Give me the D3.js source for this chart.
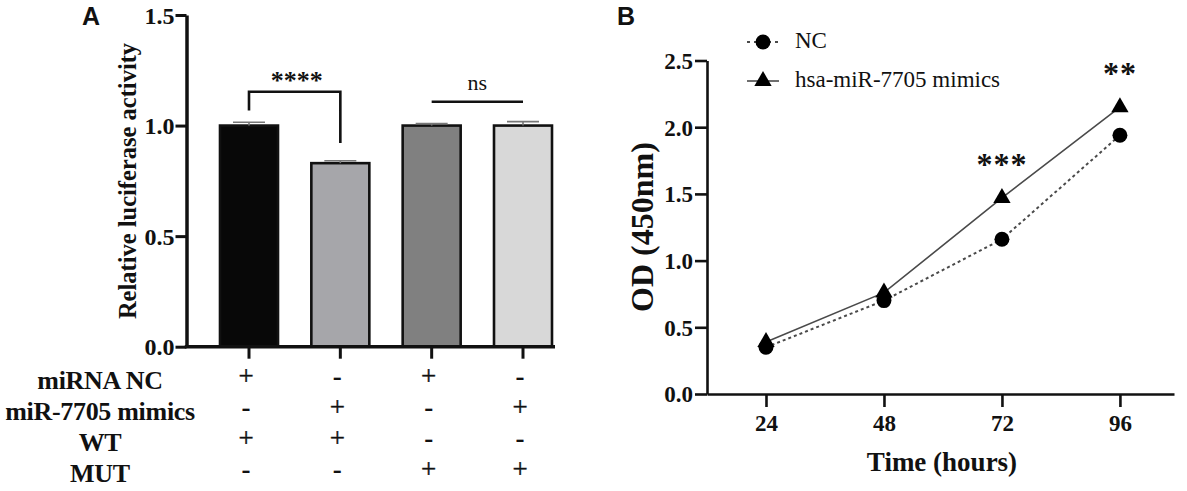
<!DOCTYPE html>
<html>
<head>
<meta charset="utf-8">
<script src="https://cdn.jsdelivr.net/npm/d3@7"></script>
<style>
  html, body { margin: 0; padding: 0; background: #fff; }
  svg { display: block; }
  text { font-family: "Liberation Serif", "Times New Roman", serif; fill: #111; }
</style>
</head>
<body>
<div id="chart"></div>
<script>
// ---- data, panel A ----
const groupsA = ['g1', 'g2', 'g3', 'g4'];
const barValues = [1.0, 0.83, 1.0, 1.0];
const barErrors = [0.015, 0.011, 0.009, 0.018];
const yTicksA = [0, 0.5, 1.0, 1.5];
const rowLabels = ['miRNA NC', 'miR-7705 mimics', 'WT', 'MUT'];
const rowSigns = [
  ['+', '-', '+', '-'],
  ['-', '+', '-', '+'],
  ['+', '+', '-', '-'],
  ['-', '-', '+', '+']
];
// bracket: from group, to group, top level, left leg end, right leg end, label
const bracketsA = [
  { a: 0, b: 1, top: 1.153, legA: 1.068, legB: 0.921, label: '****' },
  { a: 2, b: 3, top: 1.108, legA: null, legB: null, label: 'ns' }
];

// ---- data, panel B ----
const timePoints = [24, 48, 72, 96];
const ncValues = [0.35, 0.70, 1.16, 1.94];
const mimicValues = [0.39, 0.76, 1.47, 2.15];
const yTicksB = [0, 0.5, 1.0, 1.5, 2.0, 2.5];
const seriesNames = ['NC', 'hsa-miR-7705 mimics'];
const sigB = [{ t: 72, label: '***' }, { t: 96, label: '**' }];

const W = 1187, H = 491;
const SERIF = '"Liberation Serif", "Times New Roman", serif';
const SANS = '"Liberation Sans", Arial, sans-serif';
const barFill = ['#080808', '#a6a6aa', '#808080', '#d8d8d8'];
const INK = '#111';
const LINE_C = '#4a4a4a';
const STAR_C = '#1b1b2f';

const svg = d3.select('#chart').append('svg')
  .attr('width', W).attr('height', H)
  .attr('viewBox', `0 0 ${W} ${H}`);

// ================= Panel A =================
const yA = d3.scaleLinear().domain([0, 1.5]).range([346.7, 15]);
const xA = d3.scaleBand().domain(groupsA).range([220, 552])
  .paddingInner(0.365).paddingOuter(0);
const AX0 = 186.5;
const cxA = g => xA(g) + xA.bandwidth() / 2;

svg.append('text')
  .attr('x', 82).attr('y', 25)
  .attr('font-family', SANS).style('font-family', SANS)
  .attr('font-weight', 'bold').attr('font-size', 25)
  .text('A');

// bars
svg.append('g').selectAll('rect')
  .data(barValues)
  .join('rect')
  .attr('x', (d, i) => xA(groupsA[i]))
  .attr('y', d => yA(d))
  .attr('width', xA.bandwidth())
  .attr('height', d => yA(0) - yA(d))
  .attr('fill', (d, i) => barFill[i])
  .attr('stroke', INK)
  .attr('stroke-width', 2.6);

// error bars
const errG = svg.append('g').attr('stroke', '#777').attr('stroke-width', 1.6);
barValues.forEach((v, i) => {
  const cx = cxA(groupsA[i]);
  errG.append('line').attr('x1', cx).attr('x2', cx)
    .attr('y1', yA(v)).attr('y2', yA(v + barErrors[i]));
  errG.append('line').attr('x1', cx - 16).attr('x2', cx + 16)
    .attr('y1', yA(v + barErrors[i])).attr('y2', yA(v + barErrors[i]));
});

// y axis
const yAxisA = svg.append('g')
  .attr('transform', `translate(${AX0},0)`)
  .call(d3.axisLeft(yA).tickValues(yTicksA).tickFormat(d3.format('.1f'))
    .tickSize(11).tickSizeOuter(0).tickPadding(1));
yAxisA.select('.domain').attr('stroke', INK).attr('stroke-width', 3.5);
yAxisA.selectAll('.tick line').attr('stroke', INK).attr('stroke-width', 3);
yAxisA.selectAll('.tick text')
  .style('font-family', SERIF)
  .attr('font-weight', 'bold').attr('font-size', 24).attr('fill', INK)
  .attr('dy', '0.34em');

// x axis line + ticks
svg.append('line')
  .attr('x1', AX0 - 1.7).attr('x2', xA.range()[1] + 3)
  .attr('y1', yA(0)).attr('y2', yA(0))
  .attr('stroke', INK).attr('stroke-width', 3.5);
svg.append('g').selectAll('line')
  .data(groupsA)
  .join('line')
  .attr('x1', cxA).attr('x2', cxA)
  .attr('y1', yA(0)).attr('y2', yA(0) + 12)
  .attr('stroke', INK).attr('stroke-width', 3);

// y label
svg.append('text')
  .attr('transform', 'translate(136,181) rotate(-90)')
  .attr('text-anchor', 'middle')
  .attr('font-weight', 'bold').attr('font-size', 24.5)
  .text('Relative luciferase activity');

// significance
bracketsA.forEach(b => {
  const xa = cxA(groupsA[b.a]);
  const xb = cxA(groupsA[b.b]);
  let d = `M ${xa} ${yA(b.top)} L ${xb} ${yA(b.top)}`;
  if (b.legA !== null) {
    d = `M ${xa} ${yA(b.legA)} L ${xa} ${yA(b.top)} L ${xb} ${yA(b.top)} L ${xb} ${yA(b.legB)}`;
  }
  svg.append('path').attr('d', d)
    .attr('fill', 'none').attr('stroke', INK).attr('stroke-width', 2.6);
  if (b.label === 'ns') {
    svg.append('text')
      .attr('x', (xa + xb) / 2).attr('y', yA(b.top) - 12)
      .attr('text-anchor', 'middle').attr('font-size', 22)
      .text(b.label);
  } else {
    svg.append('text')
      .attr('x', (xa + xb) / 2 + 2).attr('y', yA(b.top) - 3)
      .attr('text-anchor', 'middle').attr('font-size', 26)
      .attr('font-weight', 'bold')
      .attr('fill', STAR_C)
      .text(b.label);
  }
});

// condition table
const rowBase = [389, 420, 451, 482];
rowLabels.forEach((lab, r) => {
  svg.append('text')
    .attr('x', 100).attr('y', rowBase[r])
    .attr('text-anchor', 'middle')
    .attr('font-weight', 'bold').attr('font-size', 26)
    .attr('letter-spacing', -0.3)
    .text(lab);
  rowSigns[r].forEach((s, i) => {
    const plus = s === '+';
    svg.append('text')
      .attr('x', cxA(groupsA[i]) - 3)
      .attr('y', rowBase[r] - 4)
      .attr('text-anchor', 'middle')
      .attr('font-size', 27)
      .attr('font-weight', plus ? 'normal' : 'bold')
      .attr('stroke', plus ? INK : 'none')
      .attr('stroke-width', plus ? 0.4 : 0)
      .text(s);
  });
});

// ================= Panel B =================
const xB = d3.scaleLinear().domain([12, 107]).range([707, 1174]);
const yB = d3.scaleLinear().domain([0, 2.5]).range([394, 60.5]);

svg.append('text')
  .attr('x', 617).attr('y', 25)
  .attr('font-family', SANS).style('font-family', SANS)
  .attr('font-weight', 'bold').attr('font-size', 25)
  .text('B');

const yAxisB = svg.append('g')
  .attr('transform', `translate(${xB(12)},0)`)
  .call(d3.axisLeft(yB).tickValues(yTicksB).tickFormat(d3.format('.1f'))
    .tickSize(12).tickSizeOuter(0).tickPadding(2));
const xAxisB = svg.append('g')
  .attr('transform', `translate(0,${yB(0)})`)
  .call(d3.axisBottom(xB).tickValues(timePoints).tickFormat(d3.format('d'))
    .tickSize(13).tickSizeOuter(0).tickPadding(8));
[yAxisB, xAxisB].forEach(g => {
  g.select('.domain').attr('stroke', INK).attr('stroke-width', 2.6);
  g.selectAll('.tick line').attr('stroke', INK).attr('stroke-width', 2.6);
  g.selectAll('.tick text')
    .style('font-family', SERIF)
    .attr('font-weight', 'bold').attr('font-size', 23).attr('fill', INK);
});
yAxisB.selectAll('.tick text').attr('dy', '0.34em');

svg.append('text')
  .attr('transform', 'translate(653,227) rotate(-90)')
  .attr('text-anchor', 'middle')
  .attr('font-weight', 'bold').attr('font-size', 32)
  .text('OD (450nm)');

svg.append('text')
  .attr('x', 942).attr('y', 471)
  .attr('text-anchor', 'middle')
  .attr('font-weight', 'bold').attr('font-size', 27)
  .text('Time (hours)');

const line = d3.line().x((d, i) => xB(timePoints[i])).y(d => yB(d));

svg.append('path').datum(ncValues)
  .attr('d', line).attr('fill', 'none')
  .attr('stroke', LINE_C).attr('stroke-width', 2)
  .attr('stroke-dasharray', '3,3');
svg.append('path').datum(mimicValues)
  .attr('d', line).attr('fill', 'none')
  .attr('stroke', LINE_C).attr('stroke-width', 1.6);

const tri = d3.symbol().type(d3.symbolTriangle).size(130);
const circ = d3.symbol().type(d3.symbolCircle).size(175);

svg.append('g').selectAll('path')
  .data(mimicValues)
  .join('path')
  .attr('d', tri)
  .attr('transform', (d, i) => `translate(${xB(timePoints[i])},${yB(d)})`)
  .attr('fill', '#000');
svg.append('g').selectAll('path')
  .data(ncValues)
  .join('path')
  .attr('d', circ)
  .attr('transform', (d, i) => `translate(${xB(timePoints[i])},${yB(d)})`)
  .attr('fill', '#000');

// significance stars
sigB.forEach(s => {
  const i = timePoints.indexOf(s.t);
  svg.append('text')
    .attr('x', xB(s.t)).attr('y', yB(mimicValues[i]) - 23)
    .attr('text-anchor', 'middle')
    .attr('font-size', 32).attr('font-weight', 'bold')
    .attr('letter-spacing', 1)
    .attr('fill', STAR_C)
    .text(s.label);
});

// legend
const legY = [42, 81];
const leg = svg.append('g');
leg.append('line').attr('x1', 747).attr('x2', 779).attr('y1', legY[0]).attr('y2', legY[0])
  .attr('stroke', LINE_C).attr('stroke-width', 2).attr('stroke-dasharray', '3,4');
leg.append('path').attr('d', circ).attr('transform', `translate(763,${legY[0]})`).attr('fill', '#000');
leg.append('line').attr('x1', 747).attr('x2', 779).attr('y1', legY[1]).attr('y2', legY[1])
  .attr('stroke', LINE_C).attr('stroke-width', 1.6);
leg.append('path').attr('d', tri).attr('transform', `translate(763,${legY[1]})`).attr('fill', '#000');
seriesNames.forEach((n, i) => {
  leg.append('text')
    .attr('x', 795).attr('y', legY[i] + 6)
    .attr('font-size', 23)
    .text(n);
});
</script>
</body>
</html>
